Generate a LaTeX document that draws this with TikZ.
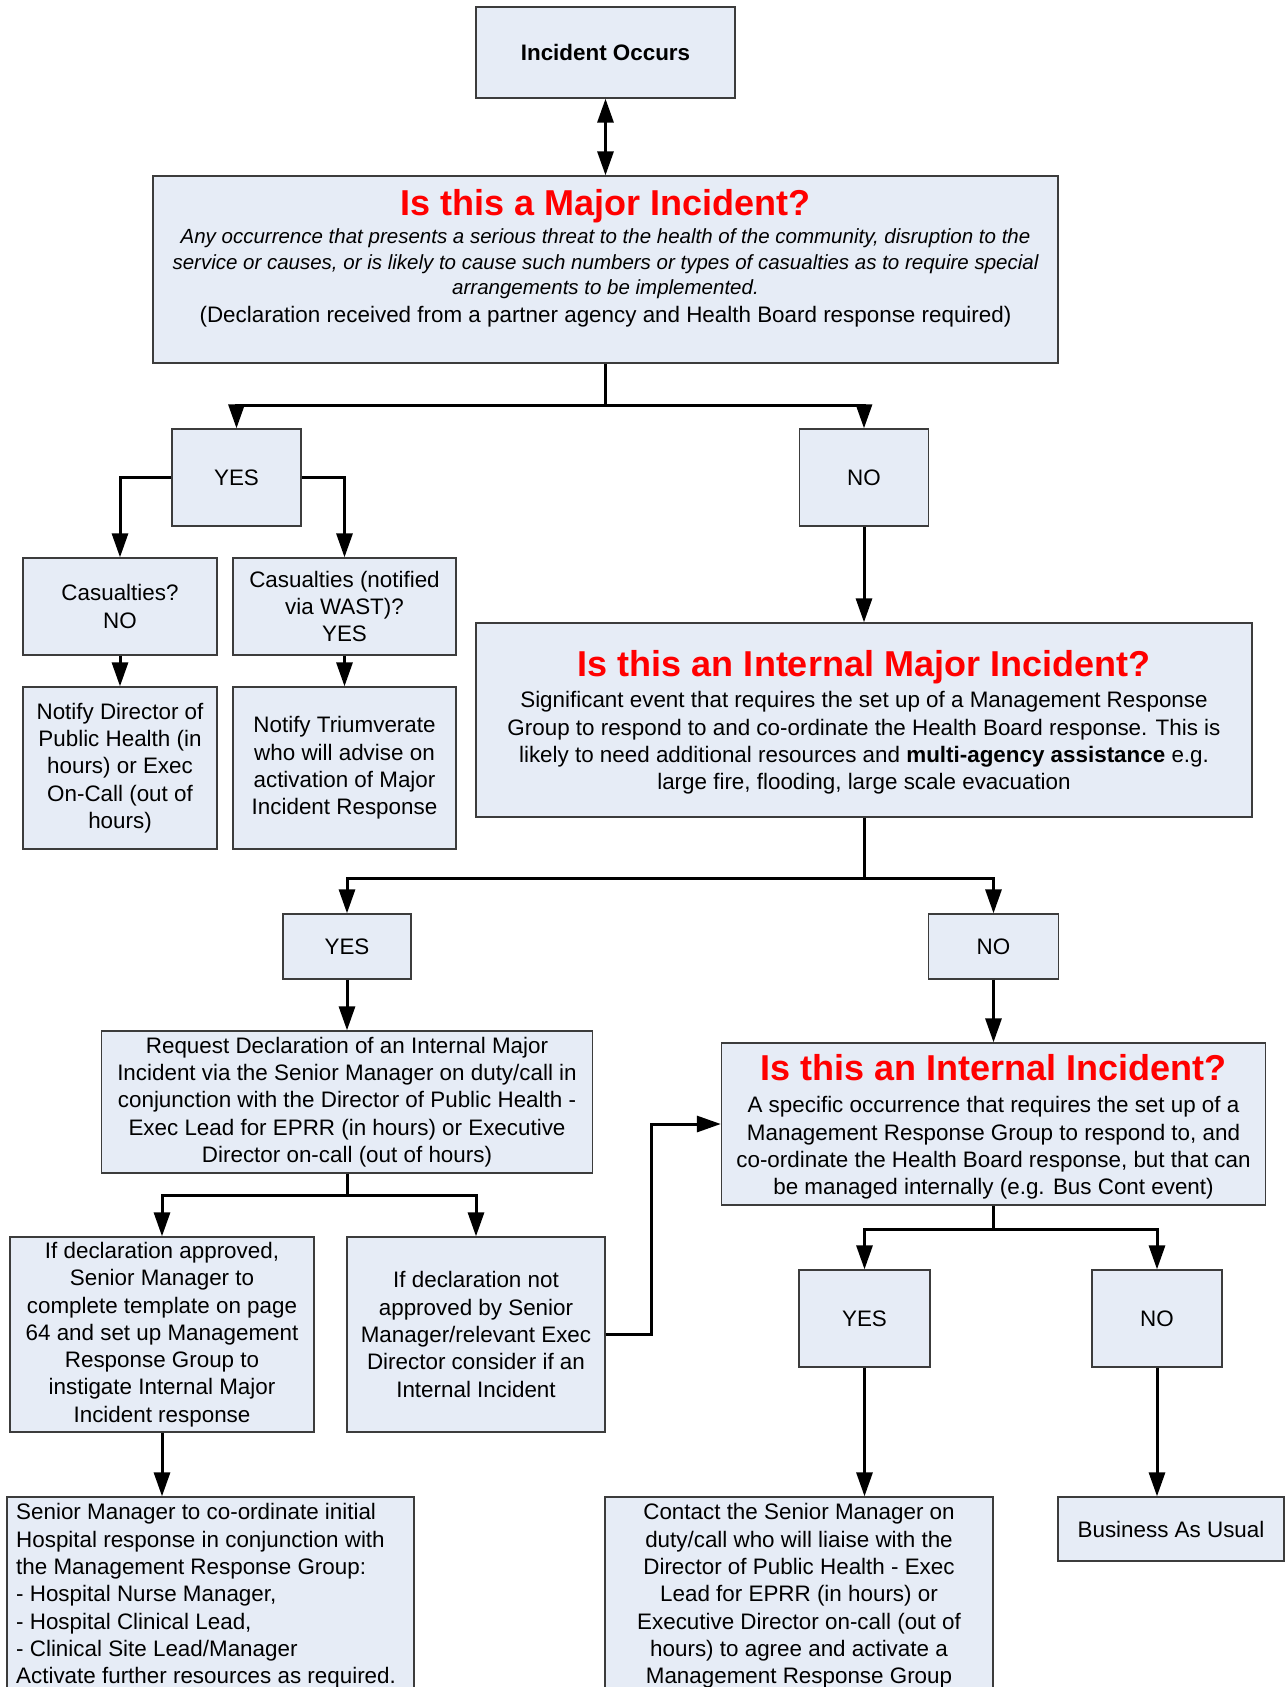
\documentclass[tikz,border=0pt]{standalone}
\usepackage{fontspec}
\setmainfont{Liberation Sans}
\usetikzlibrary{arrows.meta}
\definecolor{boxfill}{RGB}{230,236,246}
\definecolor{boxline}{RGB}{60,60,60}
\definecolor{titlered}{RGB}{255,0,0}
\newcommand\mybody{\fontsize{22.4}{27.3}\selectfont}
\newcommand\mytitle{\fontsize{36}{40}\selectfont\bfseries}
\newcommand\myital{\fontsize{20.5}{25.5}\selectfont\itshape}
\begin{document}
\begin{tikzpicture}[x=1pt,y=-1pt,
  box/.style={draw=boxline, line width=1.3pt, fill=boxfill, inner sep=0pt,
    align=center, font=\mybody},
  txt/.style={inner sep=0pt, align=center, font=\mybody},
  wire/.style={line width=3pt},
  conn/.style={wire, -{Triangle[length=24pt,width=16pt]}},
  dconn/.style={wire, {Triangle[length=24pt,width=16pt]}-{Triangle[length=24pt,width=16pt]}}
]
\useasboundingbox (0,0) rectangle (1285,1687);
\clip (0,0) rectangle (1285,1687);
\fill[white] (0,0) rectangle (1285,1687);

% boxes
\node[box, font=\mybody\bfseries, minimum width=259, minimum height=91] (occ) at (605.5,52.5) {Incident Occurs};
\node[box, minimum width=905, minimum height=187] (major) at (605.5,269.5) {};
\node[txt, font=\mytitle, text=titlered] (majT) at (605.5,206.5) {Is this a Major Incident?};
\node[txt, font=\myital] (majD) at (605.5,264) {Any occurrence that presents a serious threat to the health of the community, disruption to the\\service or causes, or is likely to cause such numbers or types of casualties as to require special\\arrangements to be implemented.};
\node[txt] (majE) at (605.5,317) {(Declaration received from a partner agency and Health Board response required)};

\node[box, minimum width=129, minimum height=97] (yes1) at (236.5,477.5) {YES};
\node[box, minimum width=129, minimum height=97] (no1) at (864,477.5) {NO};

\node[box, minimum width=194, minimum height=97] (casno) at (120,606.5) {Casualties?\\NO};
\node[box, minimum width=223, minimum height=97] (caswast) at (344.5,606.5) {Casualties (notified\\via WAST)?\\YES};
\node[box, minimum width=194, minimum height=162] (notdph) at (120,768) {Notify Director of\\Public Health (in\\hours) or Exec\\On-Call (out of\\hours)};
\node[box, minimum width=223, minimum height=162] (nottri) at (344.5,768) {Notify Triumverate\\who will advise on\\activation of Major\\Incident Response};

\node[box, minimum width=776, minimum height=194] (intmaj) at (864,720) {};
\node[txt, font=\mytitle, text=titlered] (intmajT) at (864,667.6) {Is this an Internal Major Incident?};
\node[txt] (intmajD) at (864,743) {Significant event that requires the set up of a Management Response\\Group to respond to and co-ordinate the Health Board response. This is\\likely to need additional resources and \textbf{multi-agency assistance} e.g.\\large fire, flooding, large scale evacuation};

\node[box, minimum width=128, minimum height=65] (yes2) at (347,946.5) {YES};
\node[box, minimum width=130, minimum height=65] (no2) at (993.5,946.5) {NO};

\node[box, minimum width=491, minimum height=142] (request) at (347,1102) {Request Declaration of an Internal Major\\Incident via the Senior Manager on duty/call in\\conjunction with the Director of Public Health -\\Exec Lead for EPRR (in hours) or Executive\\Director on-call (out of hours)};

\node[box, minimum width=544, minimum height=162] (intinc) at (993.5,1124) {};
\node[txt, font=\mytitle, text=titlered] (intincT) at (993.5,1068) {Is this an Internal Incident?};
\node[txt] (intincD) at (993.5,1148) {A specific occurrence that requires the set up of a\\Management Response Group to respond to, and\\co-ordinate the Health Board response, but that can\\be managed internally (e.g. Bus Cont event)};

\node[box, minimum width=304, minimum height=195] (ifapp) at (162,1334.5) {If declaration approved,\\Senior Manager to\\complete template on page\\64 and set up Management\\Response Group to\\instigate Internal Major\\Incident response};
\node[box, minimum width=258, minimum height=195] (ifnot) at (476,1334.5) {If declaration not\\approved by Senior\\Manager/relevant Exec\\Director consider if an\\Internal Incident};

\node[box, minimum width=131, minimum height=97] (yes3) at (864.5,1318.5) {YES};
\node[box, minimum width=130, minimum height=97] (no3) at (1157,1318.5) {NO};

\node[box, minimum width=407, minimum height=223] (senior) at (210.5,1608.5) {};
\node[txt, align=left, anchor=west] (seniorT) at (16,1596) {Senior Manager to co-ordinate initial\\Hospital response in conjunction with\\the Management Response Group:\\- Hospital Nurse Manager,\\- Hospital Clinical Lead,\\- Clinical Site Lead/Manager\\Activate further resources as required.};
\node[box, minimum width=388, minimum height=223] (contact) at (799,1608.5) {};
\node[txt] (contactT) at (799,1596) {Contact the Senior Manager on\\duty/call who will liaise with the\\Director of Public Health - Exec\\Lead for EPRR (in hours) or\\Executive Director on-call (out of\\hours) to agree and activate a\\Management Response Group};
\node[box, minimum width=226, minimum height=64] (business) at (1171,1529) {Business As Usual};

% junctions
\coordinate (j1) at (605.5,405);
\coordinate (j2) at (864,878);
\coordinate (j3) at (347,1195);
\coordinate (j4) at (993.5,1229);

% connectors
\draw[dconn] (occ.south) -- (major.north);
\draw[wire] (major.south) -- (j1);
\draw[conn] (j1) -| (yes1.north);
\draw[conn] (j1) -| (no1.north);
\draw[conn] (yes1.west) -| (casno.north);
\draw[conn] (yes1.east) -| (caswast.north);
\draw[conn] (casno.south) -- (notdph.north);
\draw[conn] (caswast.south) -- (nottri.north);
\draw[conn] (no1.south) -- (intmaj.north);
\draw[wire] (intmaj.south) -- (j2);
\draw[conn] (j2) -| (yes2.north);
\draw[conn] (j2) -| (no2.north);
\draw[conn] (yes2.south) -- (request.north);
\draw[conn] (no2.south) -- (intinc.north);
\draw[wire] (request.south) -- (j3);
\draw[conn] (j3) -| (ifapp.north);
\draw[conn] (j3) -| (ifnot.north);
\draw[conn] (ifnot.east) -- ++(46,0) |- (intinc.west);
\draw[wire] (intinc.south) -- (j4);
\draw[conn] (j4) -| (yes3.north);
\draw[conn] (j4) -| (no3.north);
\draw[conn] (ifapp.south) -- (ifapp.south |- senior.north);
\draw[conn] (yes3.south) -- (yes3.south |- contact.north);
\draw[conn] (no3.south) -- (no3.south |- business.north);
\end{tikzpicture}
\end{document}
